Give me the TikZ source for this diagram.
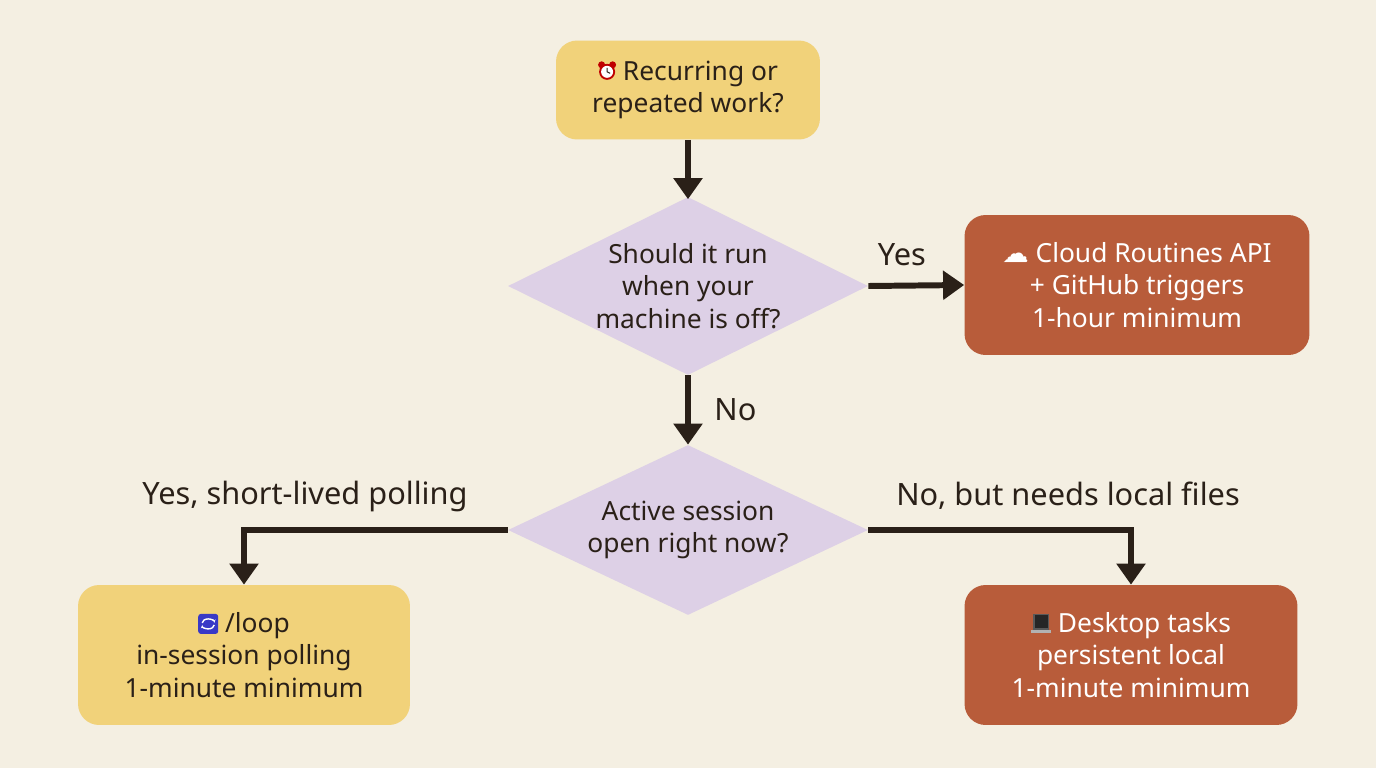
\documentclass[tikz,border=0pt]{standalone}
\usepackage{fontspec}
\setmainfont{Noto Sans}
\newfontfamily\symb{DejaVu Sans}
\usetikzlibrary{arrows.meta,positioning,shapes.geometric}
\definecolor{bgcol}{RGB}{244,239,226}
\definecolor{yellowbox}{RGB}{241,210,122}
\definecolor{rustbox}{RGB}{184,92,58}
\definecolor{lilac}{RGB}{221,208,230}
\definecolor{ink}{RGB}{42,32,24}
\tikzset{
  box/.style={rectangle,rounded corners=12pt,align=center,font=\fontsize{15}{18.5}\selectfont,text=ink},
  ask/.style={diamond,aspect=2.02,fill=lilac,align=center,inner sep=-4pt,font=\fontsize{15}{18.5}\selectfont,text=ink},
  flow/.style={ink,line width=3.4pt,-{Triangle[length=12pt,width=16pt]}},
  tag/.style={font=\fontsize{17.5}{20}\selectfont,text=ink},
  icon/.style={baseline=-0.6ex,x=1cm,y=1cm,sharp corners,line width=0.6pt}
}
\newcommand{\clockicon}{\tikz[icon]{\fill[red!75!black](-0.11,0.14)circle(0.07);\fill[red!75!black](0.11,0.14)circle(0.07);
  \fill[red!75!black](0,0)circle(0.16);\fill[white](0,0)circle(0.12);
  \draw[ink](0,0.08)--(0,0)--(0.06,-0.03);}}
\newcommand{\loopicon}{\tikz[icon]{\fill[blue!55!gray,rounded corners=1.5pt](0,-0.2)rectangle(0.4,0.2);
  \draw[white,line width=0.8pt,-{Stealth[length=2pt]}](0.08,0.02)arc(180:0:0.12 and 0.08);
  \draw[white,line width=0.8pt,-{Stealth[length=2pt]}](0.32,-0.02)arc(0:-180:0.12 and 0.08);}}
\newcommand{\laptopicon}{\tikz[icon]{\fill[gray!70!black](0.04,-0.12)rectangle(0.36,0.2);
  \fill[gray!30!black](0.07,-0.09)rectangle(0.33,0.17);\fill[gray!60](0,-0.19)rectangle(0.4,-0.12);}}
\begin{document}
\begin{tikzpicture}[x=0.02cm,y=-0.02cm]
  \fill[bgcol] (0,0) rectangle (1376,768);
  \useasboundingbox (0,0) rectangle (1376,768);

  \node[box,fill=yellowbox,minimum width=5.28cm,minimum height=1.98cm] (start) at (688,90)
    {\clockicon\ Recurring or\\repeated work?};
  \node[ask,minimum width=7.2cm,minimum height=3.56cm] (offq) at (688,286) {Should it run\\when your\\machine is off?};
  \node[box,fill=rustbox,text=white,minimum width=6.9cm,minimum height=2.8cm] (cloud) at (1137,285)
    {{\symb ☁} Cloud Routines API\\+ GitHub triggers\\1-hour minimum};
  \node[ask,minimum width=7.2cm,minimum height=3.4cm] (sessq) at (688,530) {Active session\\open right now?};
  \node[box,fill=yellowbox,minimum width=6.64cm,minimum height=2.8cm] (loop) at (244,655)
    {\loopicon\ /loop\\in-session polling\\1-minute minimum};
  \node[box,fill=rustbox,text=white,minimum width=6.66cm,minimum height=2.8cm] (desk) at (1131,655)
    {\laptopicon\ Desktop tasks\\persistent local\\1-minute minimum};

  \draw[flow] (start.south) -- ([yshift=-0.05cm]offq.north);
  \draw[flow] (offq.east) -- (cloud.west) node[tag,pos=0.35,above=6pt] {Yes};
  \draw[flow] (offq.south) -- (sessq.north) node[tag,midway,right=10pt] {No};
  \draw[flow] (sessq.west) -| (loop.north);
  \draw[flow] (sessq.east) -| (desk.north);
  \node[tag] (yeslbl) at (305,496) {Yes, short-lived polling};
  \node[tag] (nolbl) at (1068,496) {No, but needs local files};
\end{tikzpicture}
\end{document}
